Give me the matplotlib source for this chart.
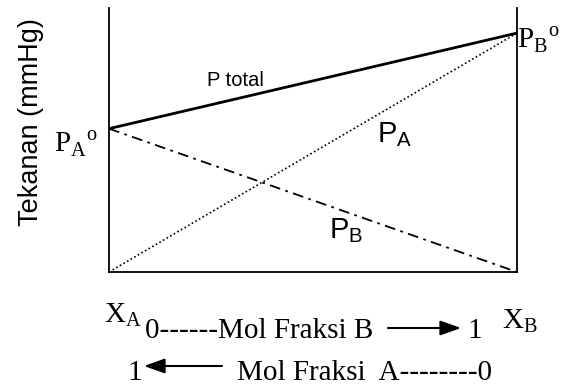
import matplotlib
matplotlib.use("Agg")
import matplotlib.pyplot as plt
from matplotlib.patches import FancyArrowPatch

plt.rcParams['mathtext.fontset'] = 'custom'
plt.rcParams['mathtext.rm'] = 'Liberation Serif'
plt.rcParams['mathtext.sf'] = 'Liberation Sans'

# Data (mole fraction of B from 0 to 1)
x_frac = [0, 1]
p_total = [60, 100]
p_rising = [0, 100]     # dotted line, labelled P_A in the figure
p_falling = [60, 0]     # dash-dot line, labelled P_B in the figure
y_max = 110.5

W, H = 563, 385
fig = plt.figure(figsize=(W / 100, H / 100), dpi=100)
fx = lambda px: px / W
fy = lambda py: 1 - py / H

ax = fig.add_axes([fx(109), fy(272), fx(517) - fx(109), fy(8) - fy(272)])
ax.plot(x_frac, p_total, color='black', lw=2.0, solid_capstyle='butt', clip_on=False)
ax.plot(x_frac, p_rising, color='black', lw=1.2, linestyle=(0, (1, 1.5)), clip_on=False)
ax.plot(x_frac, p_falling, color='black', lw=1.3, linestyle=(0, (6, 3, 1.5, 3)), clip_on=False)
ax.set_xlim(0, 1)
ax.set_ylim(0, y_max)
ax.spines['top'].set_visible(False)
for s in ['left', 'right', 'bottom']:
    ax.spines[s].set_linewidth(1.3)
ax.set_xticks([])
ax.set_yticks([])

sans = 'Liberation Sans'
serif = 'Liberation Serif'

fig.text(fx(31), fy(122), 'Tekanan (mmHg)', rotation=90, ha='center', va='center',
         family=sans, fontsize=19.5)

fig.text(fx(207), fy(86), 'P total', family=sans, fontsize=14.5, ha='left', va='baseline')
fig.text(fx(377), fy(142), r'$\mathsf{P}_{\mathsf{A}}$', fontsize=21, ha='left', va='baseline')
fig.text(fx(329), fy(238), r'$\mathsf{P}_{\mathsf{B}}$', fontsize=21, ha='left', va='baseline')

fig.text(fx(54), fy(152), r'$\mathrm{P}_{\mathrm{A}}{}^{\mathrm{o}}$', fontsize=21, ha='left', va='baseline')
fig.text(fx(517), fy(48), r'$\mathrm{P}_{\mathrm{B}}{}^{\mathrm{o}}$', fontsize=21, ha='left', va='baseline')

fig.text(fx(104), fy(322), r'$\mathrm{X}_{\mathrm{A}}$', fontsize=21, ha='left', va='baseline')
fig.text(fx(502), fy(328), r'$\mathrm{X}_{\mathrm{B}}$', fontsize=21, ha='left', va='baseline')

fig.text(fx(145), fy(338), '0------Mol Fraksi B', family=serif, fontsize=21, ha='left', va='baseline')
fig.text(fx(467), fy(338), '1', family=serif, fontsize=21, ha='left', va='baseline')
fig.text(fx(127), fy(380), '1', family=serif, fontsize=21, ha='left', va='baseline')
fig.text(fx(237), fy(380), 'Mol Fraksi  A--------0', family=serif, fontsize=21, ha='left', va='baseline')

for (x0, x1, yy) in [(388, 461, 328), (222, 144, 366)]:
    arr = FancyArrowPatch((fx(x0), fy(yy)), (fx(x1), fy(yy)), transform=fig.transFigure,
                          arrowstyle='-|>,head_length=0.7,head_width=0.25', mutation_scale=18,
                          color='black', lw=1.5, shrinkA=0, shrinkB=0)
    fig.patches.append(arr)

fig.savefig('out.png', dpi=100)
